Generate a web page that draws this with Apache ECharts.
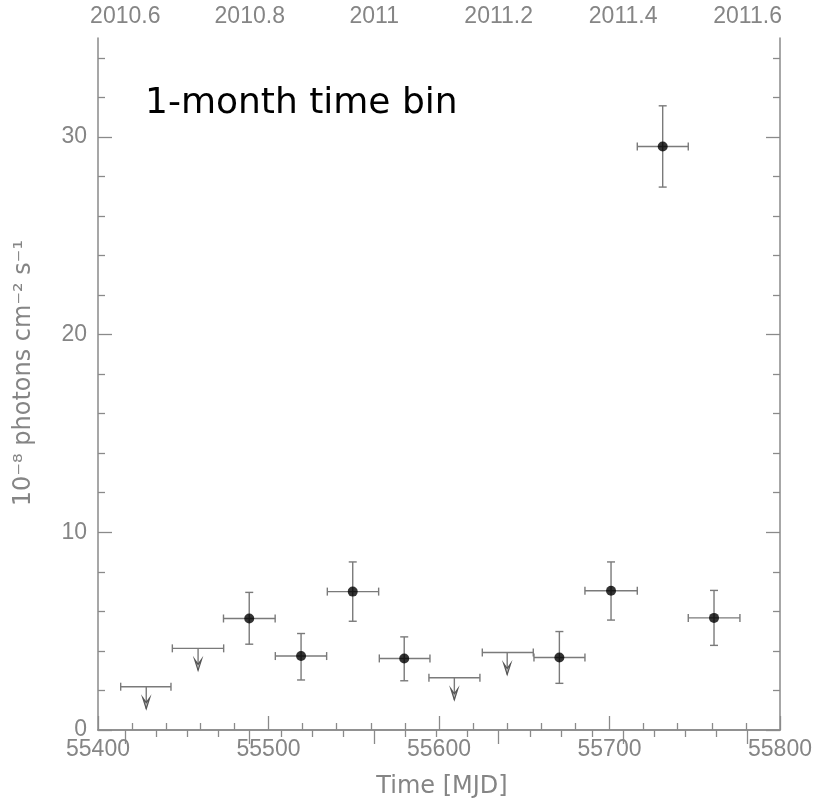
<!DOCTYPE html>
<html>
<head>
<meta charset="utf-8">
<script src="https://cdn.jsdelivr.net/npm/echarts@6/dist/echarts.min.js"></script>
<style>html,body{margin:0;padding:0;background:#fff}#c{width:817px;height:802px}</style>
</head>
<body>
<div id="c"></div>
<script>
// ---- detections: time (MJD), bin edges, flux (1e-8 ph cm^-2 s^-1) and error range ----
const detTime   = [55488.7, 55519.1, 55549.4, 55579.6, 55670.6, 55700.9, 55731.2, 55761.3];
const detTimeLo = [55473.6, 55504.0, 55534.5, 55565.0, 55655.7, 55685.6, 55716.3, 55746.2];
const detTimeHi = [55503.9, 55534.1, 55564.6, 55594.7, 55685.6, 55716.3, 55746.2, 55776.5];
const detFlux   = [5.64, 3.74, 7.00, 3.62, 3.67, 7.04, 29.51, 5.67];
const detFluxLo = [4.34, 2.53, 5.50, 2.49, 2.36, 5.56, 27.46, 4.28];
const detFluxHi = [6.96, 4.88, 8.50, 4.71, 4.98, 8.50, 31.57, 7.06];

// ---- upper limits ----
const ulTime   = [55428.3, 55458.7, 55609.0, 55640.0];
const ulTimeLo = [55413.3, 55443.6, 55594.1, 55625.4];
const ulTimeHi = [55442.8, 55473.7, 55624.0, 55655.3];
const ulFlux   = [2.19, 4.13, 2.64, 3.92];

// ---- axes ----
const xMin = 55400, xMax = 55800;
const xMajorTicks = [55400, 55500, 55600, 55700, 55800];
const xMinorTicks = [55420, 55440, 55460, 55480, 55520, 55540, 55560, 55580, 55620, 55640, 55660, 55680, 55720, 55740, 55760, 55780];
const yMin = 0, yMax = 35;
const yMajorTicks = [0, 10, 20, 30];
const yMinorTicks = [2, 4, 6, 8, 12, 14, 16, 18, 22, 24, 26, 28, 32, 34];
const mjdYearStart = 55197; // MJD of 2010-01-01
const yearMin = 2010 + (xMin - mjdYearStart) / 365;
const yearMax = 2010 + (xMax - mjdYearStart) / 365;
const topMajorTicks = [2010.6, 2010.8, 2011, 2011.2, 2011.4, 2011.6];
const topMinorTicks = [2010.65, 2010.7, 2010.75, 2010.85, 2010.9, 2010.95, 2011.05, 2011.1, 2011.15, 2011.25, 2011.3, 2011.35, 2011.45, 2011.5, 2011.55];

const titleText = '1-month time bin';
const xTitle = 'Time [MJD]';
const yTitle = '10\u207B\u2078 photons cm\u207B\u00B2 s\u207B\u00B9';

const GRAY = '#8a8a8a';
const LBL = '#858585';
const FONT = 'Liberation Sans';
const gridRect = {left: 98, right: 37, top: 38, bottom: 72};

function majorAxis(extra) {
  return Object.assign({
    type: 'value', splitLine: {show: false},
    axisLine: {show: true, lineStyle: {color: GRAY, width: 1.5}},
    axisLabel: {show: false},
  }, extra);
}
function tickOnly(vals, len) {
  return {show: true, inside: true, length: len, customValues: vals, lineStyle: {color: GRAY, width: 1.3}};
}

const detData = detTime.map((t, i) => [t, detTimeLo[i], detTimeHi[i], detFlux[i], detFluxLo[i], detFluxHi[i]]);
const ulData = ulTime.map((t, i) => [t, ulTimeLo[i], ulTimeHi[i], ulFlux[i]]);

const barStyle = {stroke: '#7a7a7a', lineWidth: 1.4, fill: null};

const option = {
  animation: false,
  backgroundColor: '#fff',
  grid: [Object.assign({}, gridRect), Object.assign({}, gridRect)],
  xAxis: [
    majorAxis({gridIndex: 0, position: 'bottom', min: xMin, max: xMax,
      axisTick: tickOnly(xMajorTicks, 14),
      axisLabel: {show: true, customValues: xMajorTicks, formatter: v => String(v), color: LBL, fontFamily: FONT, fontSize: 23, margin: 8}}),
    majorAxis({gridIndex: 0, position: 'top', min: yearMin, max: yearMax,
      axisTick: tickOnly(topMajorTicks, 14),
      axisLabel: {show: true, customValues: topMajorTicks, formatter: v => String(Math.round(v * 10) / 10), color: LBL, fontFamily: FONT, fontSize: 23, margin: 10}}),
    majorAxis({gridIndex: 1, position: 'bottom', min: xMin, max: xMax, axisLine: {show: false},
      axisTick: tickOnly(xMinorTicks, 7)}),
    majorAxis({gridIndex: 1, position: 'top', min: yearMin, max: yearMax, axisLine: {show: false},
      axisTick: tickOnly(topMinorTicks, 7)})
  ],
  yAxis: [
    majorAxis({gridIndex: 0, position: 'left', min: yMin, max: yMax,
      axisTick: tickOnly(yMajorTicks, 14),
      axisLabel: {show: true, customValues: yMajorTicks, color: LBL, fontFamily: FONT, fontSize: 23, margin: 11}}),
    majorAxis({gridIndex: 0, position: 'right', min: yMin, max: yMax,
      axisTick: tickOnly(yMajorTicks, 14)}),
    majorAxis({gridIndex: 1, position: 'left', min: yMin, max: yMax, axisLine: {show: false},
      axisTick: tickOnly(yMinorTicks, 7)}),
    majorAxis({gridIndex: 1, position: 'right', min: yMin, max: yMax, axisLine: {show: false},
      axisTick: tickOnly(yMinorTicks, 7)})
  ],
  graphic: [
    {type: 'text', left: 145, top: 86, style: {text: titleText, fill: '#000', font: '36px "DejaVu Sans"'}},
    {type: 'text', x: 442, y: 787, style: {text: xTitle, fill: LBL, font: '24px "DejaVu Sans"', align: 'center', verticalAlign: 'middle'}},
    {type: 'text', x: 24, y: 373, rotation: Math.PI / 2, style: {text: yTitle, fill: LBL, font: '24px "DejaVu Sans"', align: 'center', verticalAlign: 'middle'}}
  ],
  series: [
    {
      type: 'custom', xAxisIndex: 0, yAxisIndex: 0, data: detData,
      encode: {x: [0, 1, 2], y: [3, 4, 5]},
      renderItem: function (params, api) {
        const c = api.coord([api.value(0), api.value(3)]);
        const l = api.coord([api.value(1), api.value(3)]);
        const r = api.coord([api.value(2), api.value(3)]);
        const lo = api.coord([api.value(0), api.value(4)]);
        const hi = api.coord([api.value(0), api.value(5)]);
        const k = 4;
        const seg = (x1, y1, x2, y2) => ({type: 'line', shape: {x1, y1, x2, y2}, style: barStyle});
        return {type: 'group', children: [
          seg(l[0], c[1], r[0], c[1]),
          seg(l[0], c[1] - k, l[0], c[1] + k),
          seg(r[0], c[1] - k, r[0], c[1] + k),
          seg(c[0], lo[1], c[0], hi[1]),
          seg(c[0] - k, lo[1], c[0] + k, lo[1]),
          seg(c[0] - k, hi[1], c[0] + k, hi[1])
        ]};
      }
    },
    {
      type: 'custom', xAxisIndex: 0, yAxisIndex: 0, data: ulData,
      encode: {x: [0, 1, 2], y: 3},
      renderItem: function (params, api) {
        const c = api.coord([api.value(0), api.value(3)]);
        const l = api.coord([api.value(1), api.value(3)]);
        const r = api.coord([api.value(2), api.value(3)]);
        const k = 4, len = 22;
        const seg = (x1, y1, x2, y2) => ({type: 'line', shape: {x1, y1, x2, y2}, style: barStyle});
        return {type: 'group', children: [
          seg(l[0], c[1], r[0], c[1]),
          seg(l[0], c[1] - k, l[0], c[1] + k),
          seg(r[0], c[1] - k, r[0], c[1] + k),
          seg(c[0], c[1], c[0], c[1] + len),
          {type: 'polygon', shape: {points: [[c[0] - 3.5, c[1] + len - 11], [c[0], c[1] + len], [c[0] + 3.5, c[1] + len - 11], [c[0], c[1] + len - 6]]},
           style: {stroke: '#555', lineWidth: 1.2, fill: '#bbb'}}
        ]};
      }
    },
    {
      type: 'scatter', xAxisIndex: 0, yAxisIndex: 0,
      data: detTime.map((t, i) => [t, detFlux[i]]),
      symbol: 'circle', symbolSize: 10,
      itemStyle: {color: '#000'}, z: 5
    }
  ]
};

const chart = echarts.init(document.getElementById('c'), null, {renderer: 'canvas'});
chart.setOption(option);
</script>
</body>
</html>
